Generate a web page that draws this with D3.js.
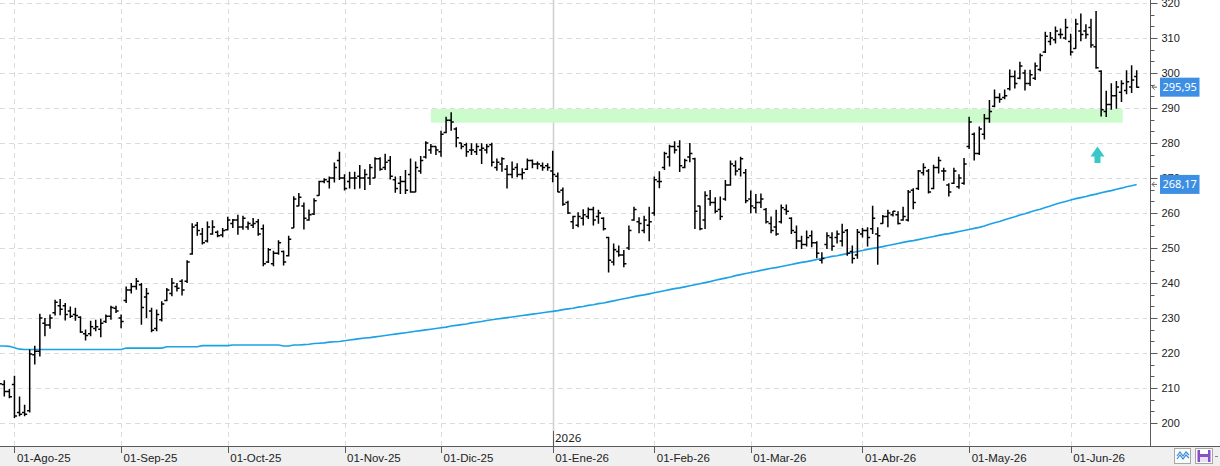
<!DOCTYPE html>
<html>
<head>
<meta charset="utf-8">
<script src="https://cdn.jsdelivr.net/npm/d3@7"></script>
<style>
html, body { margin: 0; padding: 0; background: #fff; }
svg { display: block; font-family: "Noto Sans", "DejaVu Sans", sans-serif; }
</style>
</head>
<body>
<svg id="chart" width="1220" height="466"></svg>
<script>
// bar index of the first value in every series (index 0 = 01-Ago-25)
const firstIndex = -3;

const opens = [
  211.5, 211, 209, 211, 203, 203, 203.5, 219.5, 220.5, 228.5, 228, 231.5, 233.5, 233.5, 232, 231, 230.2, 225.5, 225.5, 227,
  226.8, 229, 230.5, 232.8, 230, 235, 238, 239, 239.5, 236, 232, 227, 229.5, 235, 237, 239, 240.5, 240.5, 248.3, 256.5,
  254, 252, 254, 254.5, 253.7, 255.2, 257, 258, 256, 256, 256.5, 257.5, 255.5, 246, 245.5, 248.5, 249, 247.8, 255.7, 262,
  262, 258, 259.7, 265, 269, 269, 270, 275, 270, 269, 270, 270.5, 270, 270, 270, 275.5, 273, 275, 269.5, 268.5,
  269, 271, 266, 272, 276, 278, 279, 277.5, 283, 286.5, 284, 280, 279.5, 278, 277.5, 278, 278, 279.5, 273, 274,
  272.5, 271, 273, 271, 272.5, 275, 274, 273.5, 273.5, 272, 270.5,
  266.5, 263, 257.5, 256.5, 258.5, 259, 261, 259, 258.5, 253, 246, 249, 248, 250, 258, 257.5, 255, 256.5, 260, 269,
  273, 276, 279, 279, 273, 276, 275.5, 262, 258, 264, 263, 261, 264, 268, 273.5, 272.5, 271.5, 264, 261.5, 263,
  261, 257, 256, 257.5, 261,
  258.5, 254.5, 252, 251, 253.5, 251.5, 246.5, 251, 253, 253, 252, 255, 249, 248, 254, 255, 255.5, 254, 257, 259,
  259.5, 259.5, 258, 258, 266.5, 267, 271.5, 272, 267, 273, 272, 268, 268.5, 267.5, 268.5,
  279, 282.5, 277, 282.5, 287, 290.5, 293, 293, 295.5, 299, 298.5, 300, 297, 298.5, 301, 306, 309, 309.5, 311, 310,
  309, 307, 312, 312, 313, 307.5, 300.5, 289, 291, 293.5, 294.5, 295, 296, 299
];

const highs = [
  212, 212.2, 209.7, 213.5, 207.6, 205.2, 221, 222.1, 231.2, 230, 231, 235.2, 235.4, 234.3, 233.3, 232.9, 230.5, 226.7, 229.2, 229.5,
  229.8, 231, 233.5, 233.5, 231, 239, 240, 241.4, 240, 238.6, 232.9, 232.4, 234.8, 238.6, 241.4, 240, 241.1, 246.5, 257.1, 257.4,
  255.7, 257.6, 257.9, 255, 255.7, 258.9, 258.3, 259.5, 259.2, 257.6, 258.6, 258.3, 256.7, 250, 249.2, 252.2, 249.3, 253.5, 264.8, 265.7,
  263, 261, 264.2, 269.2, 269.9, 270.4, 274.4, 277.5, 271.1, 271.8, 271.8, 273.7, 272.5, 274, 275.9, 275.9, 276.9, 276.3, 270.4, 270.6,
  272.3, 275.6, 274.7, 276.3, 280.5, 279.7, 279.1, 283.5, 287.5, 288.8, 284.5, 280.1, 280.1, 279.9, 279.9, 279.9, 279.7, 280.1, 275.6, 275.9,
  273.7, 274.7, 274.2, 272.8, 275.6, 275.3, 274.7, 274.4, 274.2, 277.8, 271.6,
  267.3, 263.5, 259.2, 260.2, 261.1, 261.6, 261.8, 260.9, 258.8, 253.2, 251.3, 250.7, 249.4, 256.4, 261.8, 258.8, 259.2, 261.8, 270.4, 271.9,
  277.5, 279.5, 280.5, 280.8, 275.5, 280, 275.8, 262.1, 266.2, 266.6, 264.5, 264.7, 269.4, 275, 275, 276.1, 272.6, 266.4, 265.4, 265.6,
  261.4, 259, 260.9, 262.4, 262.4,
  258.8, 256.4, 253.5, 255, 255, 251.9, 248.8, 254.5, 254.5, 255, 256.9, 255.4, 250.7, 255.4, 255.7, 255.9, 262.1, 255.9, 259.4, 260.9,
  260.6, 260.5, 261.8, 266.6, 267.1, 272.3, 274.2, 272.6, 273.8, 276.1, 272.9, 268.5, 272.9, 271.1, 275.7,
  287.5, 283, 284.7, 288.3, 292.3, 295.3, 294.2, 295.3, 301, 300.7, 303.2, 300.9, 300.9, 303, 305.6, 311.8, 311.7, 313.3, 312.7, 315.5,
  311.2, 315.5, 317, 313.9, 315.5, 317.7, 300.8, 294.9, 297.1, 297.7, 297.9, 300.8, 302.2, 300.8
];

const lows = [
  209, 207.6, 207.1, 201.4, 201.9, 201.9, 203, 216.7, 219, 224.8, 226.9, 230.7, 230.8, 229.3, 230, 229.2, 225.7, 223.6, 224.8, 226.2,
  224.5, 228.6, 229.5, 231.4, 227.1, 234.3, 237, 238.1, 228.1, 230, 225.9, 226.2, 229, 234.8, 236.2, 237.6, 236.4, 240, 248.1, 253.5,
  251, 251.6, 253.8, 253.1, 253.1, 255, 255.7, 253.8, 255.2, 255.2, 255.7, 253.5, 244.8, 245.7, 244.8, 248.1, 245, 247.6, 255.7, 261.9,
  255.3, 257.8, 259.4, 264.9, 268.5, 267, 268.7, 269.4, 266.4, 267, 266.8, 267, 266.6, 268, 269.9, 272.1, 272.3, 269.6, 265.8, 265.4,
  265.4, 265.8, 265.9, 271.2, 275.6, 276.9, 276.6, 276.1, 282.8, 283.5, 278.8, 278.2, 276.1, 276.6, 276.6, 274, 277, 273.3, 272.1, 271.8,
  267, 269.9, 270.2, 269.6, 272.3, 272.8, 272.5, 272.1, 272.1, 268.8, 265.9,
  262.1, 259.7, 255.4, 255.9, 256.4, 258.3, 256.4, 256.9, 255, 243, 245, 247.5, 244.5, 249.4, 257.8, 254.2, 254.2, 251.9, 259.2, 267.1,
  272.3, 273.3, 277, 271.7, 272.8, 274.5, 255.4, 255.1, 255.4, 262.1, 259.9, 258, 263.5, 267.8, 270.7, 270.4, 262.8, 259.9, 259.9, 261.4,
  257, 254.2, 253.5, 257, 259.5,
  254, 249.7, 249.7, 250.4, 250.2, 247.1, 245.6, 249.7, 249.2, 251.3, 250.4, 247.8, 245.6, 246.9, 253, 250.4, 254, 245.2, 256.9, 255.9,
  259, 256.7, 257.8, 257.6, 261.1, 266.6, 270.7, 265.6, 266.8, 271.3, 269.2, 264.7, 268.3, 266.9, 268.1,
  278.3, 275, 276.6, 281, 285.8, 290.2, 291.5, 292.5, 295, 295.6, 298.2, 295, 296.3, 298, 300.5, 305.7, 307.9, 308.4, 309.8, 309.5,
  305, 306.9, 309.1, 309.8, 307.2, 301.2, 287.6, 287.4, 289.5, 289.8, 291.7, 293.9, 294.3, 295.8
];

const closes = [
  211.2, 209, 207.5, 202, 202.5, 202.5, 219.7, 220.5, 230, 228, 230, 234.5, 232.5, 231, 230.5, 230.7, 226, 225, 227.5, 227.5,
  228.5, 230.5, 233, 232, 229, 238, 239, 240.5, 233, 237, 226.5, 231, 234, 238, 240, 238.5, 238, 246, 256, 255,
  251.5, 256, 256, 253.5, 255, 258, 258, 256, 258.5, 257, 257, 254, 245.5, 249.5, 248.5, 251.5, 246, 252.5, 264, 264.5,
  258.5, 259.5, 263.5, 269, 269.5, 270, 273, 270, 267, 270, 270, 270, 271, 273, 275.5, 272.5, 274.5, 270.5, 267, 269,
  266.5, 266, 273, 275, 280, 279, 278, 282.5, 286.5, 286, 281.5, 279, 277.5, 278, 279, 278.5, 279, 274.5, 274.5, 275.5,
  271, 272.5, 271, 271.5, 275, 274, 274, 273, 273, 271, 266,
  262.5, 260, 259, 259, 259.5, 261, 258, 260, 255.5, 246.5, 249.5, 248, 245.5, 255, 261, 257, 258, 257.5, 269.5, 269,
  277, 279, 278, 273.5, 275, 277, 260.5, 255.5, 265, 263, 260.5, 259, 268, 274, 272, 275.5, 263.5, 262, 263, 264,
  257.5, 255, 254, 261.5, 260.5,
  255, 252, 251, 253, 251.5, 248.5, 247, 253.5, 250.5, 254, 254.5, 248.5, 247, 254.5, 255, 253, 258.5, 253.5, 259, 260,
  260.5, 257, 259, 266, 263, 272, 273, 266, 273, 275, 272, 266, 272, 270, 274,
  286, 277, 284, 287, 289, 293, 292.5, 293.5, 299, 297, 302, 297, 299.5, 302, 305, 310.5, 310, 312, 311, 313,
  306, 314, 311, 311, 308, 301.5, 289.5, 291, 293.5, 296, 297, 297.5, 298, 295.95
];

// moving average, one value per bar
const maValues = [
  222.0, 222.0, 221.9, 221.5, 221.1, 221.0, 221.0, 221.0, 221.0, 221.0, 221.0, 221.0, 221.0, 221.0, 221.0, 221.0, 221.0, 221.0, 221.0, 221.0,
  221.0, 221.0, 221.0, 221.0, 221.0, 221.4, 221.4, 221.4, 221.4, 221.4, 221.4, 221.4, 221.4, 221.8, 221.8, 221.8, 221.8, 221.8, 221.8, 221.8,
  222.1, 222.1, 222.1, 222.1, 222.1, 222.1, 222.3, 222.3, 222.3, 222.3, 222.3, 222.3, 222.3, 222.3, 222.3, 222.3, 222.0, 222.0, 222.3, 222.3,
  222.4, 222.5, 222.7, 222.8, 222.9, 223.1, 223.2, 223.3, 223.5, 223.7, 223.9, 224.1, 224.3, 224.4, 224.6, 224.8, 225.0, 225.2, 225.4, 225.6,
  225.8, 226.0, 226.2, 226.4, 226.6, 226.8, 227.0, 227.2, 227.4, 227.7, 227.9, 228.1, 228.3, 228.6, 228.8, 229.0, 229.3, 229.5, 229.7, 229.9,
  230.1, 230.3, 230.5, 230.7, 230.9, 231.1, 231.3, 231.5, 231.7, 231.9, 232.1,
  232.4, 232.6, 232.8, 233.1, 233.3, 233.6, 233.8, 234.1, 234.3, 234.6, 234.9, 235.2, 235.5, 235.8, 236.1, 236.4, 236.6, 236.9, 237.2, 237.5,
  237.8, 238.1, 238.4, 238.6, 238.9, 239.2, 239.5, 239.8, 240.1, 240.4, 240.8, 241.1, 241.4, 241.7, 242.1, 242.4, 242.7, 243.0, 243.3, 243.6,
  243.9, 244.2, 244.4, 244.7, 245.0,
  245.3, 245.6, 245.9, 246.1, 246.4, 246.7, 247.0, 247.3, 247.6, 247.8, 248.1, 248.4, 248.7, 249.0, 249.3, 249.6, 249.9, 250.1, 250.4, 250.7,
  251.0, 251.3, 251.6, 251.9, 252.1, 252.4, 252.7, 253.0, 253.3, 253.6, 253.9, 254.1, 254.4, 254.7, 255.0,
  255.3, 255.6, 255.9, 256.3, 256.8, 257.2, 257.6, 258.1, 258.5, 258.9, 259.4, 259.8, 260.3, 260.7, 261.1, 261.6, 262.0, 262.5, 262.9, 263.3,
  263.7, 264.1, 264.4, 264.7, 265.1, 265.4, 265.8, 266.1, 266.4, 266.8, 267.1, 267.5, 267.8, 268.17
];

const monthTicks = [0, 21, 42, 65, 84, 106, 126, 145, 167, 188, 208];
const monthLabels = ["01-Ago-25", "01-Sep-25", "01-Oct-25", "01-Nov-25", "01-Dic-25", "01-Ene-26",
                     "01-Feb-26", "01-Mar-26", "01-Abr-26", "01-May-26", "01-Jun-26"];
const yearTick = 106;
const yearLabel = "2026";

const priceTicks = [200, 210, 220, 230, 240, 250, 260, 270, 280, 290, 300, 310, 320];

// resistance zone and signal arrow
const zoneLow = 285.8, zoneHigh = 289.7, zoneFrom = 82, zoneTo = 218.25;
const signalIndex = 213, signalValue = 279;

const W = 1220, H = 466;
const axisX = 1150, axisY = 446;
const lastIndex = firstIndex + closes.length - 1;

const x = d3.scaleLinear().domain([0, lastIndex]).range([14.46, 1136.7]);
const y = d3.scaleLinear().domain([200, 320]).range([423, 3]);

const svg = d3.select("#chart");
const fmt = v => d3.format(".2f")(v).replace(".", ",");

// bottom strip
svg.append("rect").attr("x", 0).attr("y", axisY).attr("width", W).attr("height", H - axisY).attr("fill", "#f0f0f0");

const plot = svg.append("g");

// horizontal grid
plot.selectAll(".hgrid").data(priceTicks).join("line")
  .attr("x1", 0).attr("x2", axisX - 3)
  .attr("y1", d => Math.round(y(d)) + 0.5).attr("y2", d => Math.round(y(d)) + 0.5)
  .attr("stroke", "#dcdcdc").attr("stroke-dasharray", "5,4");

// vertical grid
plot.selectAll(".vgrid").data(monthTicks.filter(d => d !== yearTick)).join("line")
  .attr("x1", d => Math.round(x(d)) + 0.5).attr("x2", d => Math.round(x(d)) + 0.5)
  .attr("y1", 0).attr("y2", axisY)
  .attr("stroke", "#dcdcdc").attr("stroke-dasharray", "5,4");

// year separator
plot.append("line")
  .attr("x1", Math.round(x(yearTick)) + 0.5).attr("x2", Math.round(x(yearTick)) + 0.5)
  .attr("y1", 0).attr("y2", axisY)
  .attr("stroke", "#cfcfcf").attr("stroke-width", 1.5);

// zone
plot.append("rect")
  .attr("x", x(zoneFrom)).attr("width", x(zoneTo) - x(zoneFrom))
  .attr("y", y(zoneHigh)).attr("height", y(zoneLow) - y(zoneHigh))
  .attr("fill", "#ccfccc");

// moving average
const maLine = d3.line()
  .x((d, i) => x(i + firstIndex))
  .y(d => y(d));
plot.append("path").datum(maValues)
  .attr("d", maLine)
  .attr("fill", "none").attr("stroke", "#1ba2e6").attr("stroke-width", 1.6);

// OHLC bars
const bars = closes.map((c, i) => ({
  i: i + firstIndex, o: opens[i], h: highs[i], l: lows[i], c: c
}));
plot.selectAll(".bar").data(bars).join("path")
  .attr("d", d => {
    const bx = x(d.i);
    const top = y(Math.max(d.h, d.o, d.c)), bot = y(Math.min(d.l, d.o, d.c));
    return `M${bx},${top}V${bot}M${bx - 2.6},${y(d.o)}H${bx}M${bx},${y(d.c)}H${bx + 2.6}`;
  })
  .attr("fill", "none").attr("stroke", "#000").attr("stroke-width", 1.5);

// signal arrow
const ax = x(signalIndex) + 1.4, ay = y(signalValue);
plot.append("path")
  .attr("d", `M${ax},${ay}L${ax + 7},${ay + 10}H${ax + 3}V${ay + 16.5}H${ax - 3}V${ay + 10}H${ax - 7}Z`)
  .attr("fill", "#38c8c8");

// x axis
svg.append("line").attr("x1", 0).attr("x2", W).attr("y1", axisY + 0.5).attr("y2", axisY + 0.5)
  .attr("stroke", "#5a5a5a");
const xAxis = svg.append("g").attr("transform", `translate(0,${axisY})`)
  .call(d3.axisBottom(x).tickValues(monthTicks).tickFormat((d, i) => monthLabels[i]).tickSize(7).tickSizeOuter(0));
xAxis.select(".domain").remove();
xAxis.selectAll(".tick line").attr("stroke", "#5a5a5a")
  .attr("transform", function () { return "translate(" + (-(parseFloat(d3.select(this.parentNode).attr("transform").match(/\(([-\d.]+)/)[1]) % 1) + 0.5) + ",0)"; });
xAxis.selectAll(".tick text")
  .attr("text-anchor", "start").attr("x", 2).attr("y", 16).attr("dy", null)
  .attr("fill", "#222").style("font-size", "11.5px");

// year label
const yx = Math.round(x(yearTick)) + 0.5;
svg.append("line").attr("x1", yx).attr("x2", yx).attr("y1", 431).attr("y2", axisY)
  .attr("stroke", "#5a5a5a");
svg.append("text").attr("x", yx + 1.5).attr("y", 442).text(yearLabel)
  .attr("fill", "#222").style("font-size", "11.5px");

// y axis
const minorTicks = d3.range(200, 320.01, 10 / 3).filter(v => Math.abs(v / 10 - Math.round(v / 10)) > 0.01);
svg.append("line").attr("x1", axisX + 0.5).attr("x2", axisX + 0.5).attr("y1", 0).attr("y2", axisY)
  .attr("stroke", "#5a5a5a");
const yAxis = svg.append("g").attr("transform", `translate(${axisX + 0.5},0)`)
  .call(d3.axisRight(y).tickValues(priceTicks).tickFormat(d3.format("d")).tickSize(7).tickPadding(4).tickSizeOuter(0));
yAxis.select(".domain").remove();
yAxis.selectAll(".tick line").attr("stroke", "#5a5a5a");
yAxis.selectAll(".tick text").attr("fill", "#222").style("font-size", "11px");
svg.append("g").attr("transform", `translate(${axisX + 0.5},0)`)
  .selectAll("line").data(minorTicks).join("line")
  .attr("x1", 0).attr("x2", 4)
  .attr("y1", d => Math.round(y(d)) + 0.5).attr("y2", d => Math.round(y(d)) + 0.5)
  .attr("stroke", "#5a5a5a");

// value labels
const tags = [
  { v: closes[closes.length - 1] },
  { v: maValues[maValues.length - 1] }
];
const tag = svg.selectAll(".tag").data(tags).join("g")
  .attr("transform", d => `translate(0,${y(d.v)})`);
tag.append("path")
  .attr("d", `M${axisX + 7},0H${axisX + 2}M${axisX + 4.5},-2.5L${axisX + 2},0L${axisX + 4.5},2.5`)
  .attr("fill", "none").attr("stroke", "#666");
tag.append("rect").attr("x", 1160).attr("y", -9.5).attr("width", 39.5).attr("height", 19)
  .attr("fill", "#3d8fe3");
tag.append("text").attr("x", 1162.5).attr("y", 4).text(d => fmt(d.v))
  .attr("fill", "#fff").style("font-size", "11px");

// toolbar icons
const ic = svg.append("g");
ic.append("rect").attr("x", 1174.5).attr("y", 448.5).attr("width", 16).attr("height", 15)
  .attr("fill", "#fafafa").attr("stroke", "#a8a8a8");
ic.append("path").attr("d", "M1177,456L1180,452L1183,456L1186,452L1189,455M1177,459L1180,455L1183,459L1186,455L1189,458")
  .attr("fill", "none").attr("stroke", "#3a8fd8").attr("stroke-width", 1.2);
ic.append("rect").attr("x", 1195.5).attr("y", 448.5).attr("width", 17).attr("height", 15)
  .attr("fill", "#fafafa").attr("stroke", "#a8a8a8");
ic.append("rect").attr("x", 1197.5).attr("y", 450).attr("width", 13).attr("height", 12).attr("fill", "#8a4fc6");
ic.append("rect").attr("x", 1200).attr("y", 450).attr("width", 8).attr("height", 4).attr("fill", "#fff");
ic.append("rect").attr("x", 1200).attr("y", 457).attr("width", 8).attr("height", 5).attr("fill", "#e8e0f4");
ic.append("line").attr("x1", 1215).attr("x2", 1218).attr("y1", 456.5).attr("y2", 456.5).attr("stroke", "#888");
</script>
</body>
</html>
